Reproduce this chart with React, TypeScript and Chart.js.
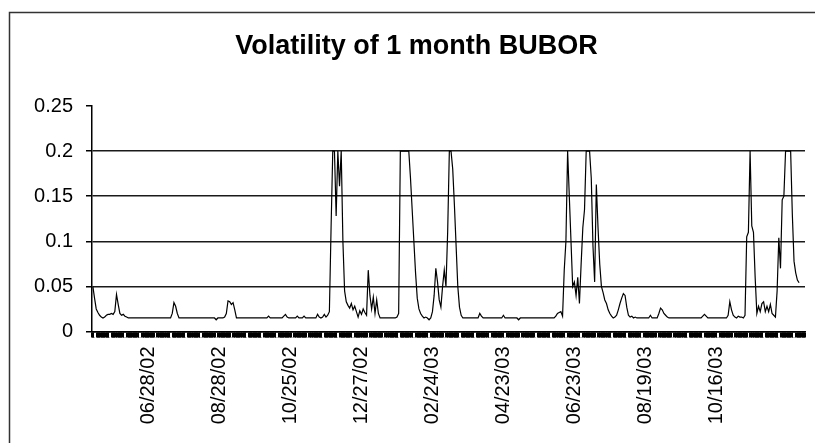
import React, { useEffect, useRef } from "react";
import { Chart, registerables } from "chart.js";

Chart.register(...registerables);

const chartTitle = "Volatility of 1 month BUBOR";
const tickLabels = ["06/28/02", "08/28/02", "10/25/02", "12/27/02", "02/24/03", "04/23/03", "06/23/03", "08/19/03", "10/16/03"];
const firstLabelIndex = 33;
const labelEvery = 42;
const categoryCount = 422;
const yTickValues = [0, 0.05, 0.1, 0.15, 0.2, 0.25];

// one value per business day
const volatility: (number | null)[] = [
  0.05, 0.037, 0.025, 0.021, 0.018, 0.016, 0.015, 0.016, 0.018, 0.019,
  0.019, 0.02, 0.019, 0.022, 0.041, 0.03, 0.02, 0.018, 0.019, 0.017,
  0.016, 0.015, 0.015, 0.015, 0.015, 0.015, 0.015, 0.015, 0.015, 0.015,
  0.015, 0.015, 0.015, 0.015, 0.015, 0.015, 0.015, 0.015, 0.015, 0.015,
  0.015, 0.015, 0.015, 0.015, 0.015, 0.015, 0.015, 0.02, 0.032, 0.028,
  0.02, 0.015, 0.015, 0.015, 0.015, 0.015, 0.015, 0.015, 0.015, 0.015,
  0.015, 0.015, 0.015, 0.015, 0.015, 0.015, 0.015, 0.015, 0.015, 0.015,
  0.015, 0.015, 0.015, 0.013, 0.015, 0.015, 0.015, 0.015, 0.016, 0.02,
  0.034, 0.033, 0.03, 0.032, 0.024, 0.015, 0.015, 0.015, 0.015, 0.015,
  0.015, 0.015, 0.015, 0.015, 0.015, 0.015, 0.015, 0.015, 0.015, 0.015,
  0.015, 0.015, 0.015, 0.015, 0.017, 0.015, 0.015, 0.015, 0.015, 0.015,
  0.015, 0.015, 0.015, 0.017, 0.019, 0.016, 0.015, 0.015, 0.015, 0.015,
  0.015, 0.017, 0.015, 0.015, 0.015, 0.017, 0.015, 0.015, 0.015, 0.015,
  0.015, 0.015, 0.015, 0.019, 0.016, 0.015, 0.016, 0.019, 0.016, 0.018,
  0.022, 0.115, 0.2, 0.2, 0.128, 0.2, 0.161, 0.2, 0.1, 0.045,
  0.033, 0.029, 0.026, 0.031, 0.024, 0.028, 0.022, 0.016, 0.023, 0.019,
  0.025, 0.021, 0.018, 0.068, 0.04, 0.025, 0.038, 0.02, 0.035, 0.02,
  0.015, 0.015, 0.015, 0.015, 0.015, 0.015, 0.015, 0.015, 0.015, 0.015,
  0.016, 0.02, 0.2, 0.2, 0.2, 0.2, 0.2, 0.2, 0.17, 0.135,
  0.1, 0.065, 0.037, 0.025, 0.02, 0.017, 0.015, 0.016, 0.015, 0.013,
  0.015, 0.022, 0.04, 0.07, 0.055, 0.035, 0.027, 0.05, 0.068, 0.05,
  0.11, 0.2, 0.2, 0.18, 0.14, 0.095, 0.05, 0.027, 0.018, 0.015,
  0.015, 0.015, 0.015, 0.015, 0.015, 0.015, 0.015, 0.015, 0.015, 0.02,
  0.017, 0.015, 0.015, 0.015, 0.015, 0.015, 0.015, 0.015, 0.015, 0.015,
  0.015, 0.015, 0.015, 0.018, 0.015, 0.015, 0.015, 0.015, 0.015, 0.015,
  0.015, 0.015, 0.013, 0.015, 0.015, 0.015, 0.015, 0.015, 0.015, 0.015,
  0.015, 0.015, 0.015, 0.015, 0.015, 0.015, 0.015, 0.015, 0.015, 0.015,
  0.015, 0.015, 0.015, 0.015, 0.017, 0.02, 0.021, 0.022, 0.017, 0.068,
  0.1, 0.2, 0.15, 0.1, 0.05, 0.055, 0.04, 0.06, 0.031, 0.075,
  0.115, 0.135, 0.2, 0.2, 0.2, 0.17, 0.095, 0.055, 0.163, 0.115,
  0.075, 0.05, 0.043, 0.035, 0.031, 0.024, 0.02, 0.017, 0.015, 0.016,
  0.018, 0.024, 0.031, 0.037, 0.042, 0.04, 0.027, 0.018, 0.016, 0.017,
  0.015, 0.016, 0.015, 0.015, 0.015, 0.015, 0.015, 0.015, 0.015, 0.015,
  0.018, 0.015, 0.015, 0.015, 0.015, 0.02, 0.026, 0.024, 0.02, 0.018,
  0.016, 0.015, 0.015, 0.015, 0.015, 0.015, 0.015, 0.015, 0.015, 0.015,
  0.015, 0.015, 0.015, 0.015, 0.015, 0.015, 0.015, 0.015, 0.015, 0.015,
  0.015, 0.017, 0.019, 0.017, 0.015, 0.015, 0.015, 0.015, 0.015, 0.015,
  0.015, 0.015, 0.015, 0.015, 0.015, 0.015, 0.018, 0.033, 0.024, 0.018,
  0.016, 0.015, 0.017, 0.016, 0.016, 0.015, 0.018, 0.105, 0.11, 0.2,
  0.117, 0.11, 0.06, 0.02, 0.028, 0.022, 0.031, 0.033, 0.022, 0.028,
  0.022, 0.03, 0.02, 0.018, 0.016, 0.045, 0.104, 0.07, 0.146, 0.15,
  0.2, 0.2, 0.2, 0.2, 0.13, 0.078, 0.065, 0.057, 0.054,
  null, null, null,
];

const categories: string[] = Array.from({ length: categoryCount }, (_, i) => {
  const k = (i - firstLabelIndex) / labelEvery;
  return Number.isInteger(k) && k >= 0 && k < tickLabels.length ? tickLabels[k] : "";
});

const FONT = "'Liberation Sans', Arial, sans-serif";

const framePlugin = {
  id: "frame",
  beforeDraw(chart: any) {
    const ctx = chart.ctx;
    ctx.save();
    ctx.fillStyle = "#ffffff";
    ctx.fillRect(0, 0, chart.width, chart.height);
    ctx.strokeStyle = "#333333";
    ctx.lineWidth = 1.5;
    ctx.strokeRect(9.5, 12.5, 1000, 1000);
    ctx.restore();
  },
};

export default function App() {
  const ref = useRef<HTMLCanvasElement | null>(null);

  useEffect(() => {
    if (!ref.current) return;
    const chart = new Chart(ref.current, {
      type: "line",
      data: {
        labels: categories,
        datasets: [
          {
            label: chartTitle,
            data: volatility,
            borderColor: "#000000",
            borderWidth: 1.2,
            pointRadius: 0,
            tension: 0,
            fill: false,
            spanGaps: false,
          },
        ],
      },
      options: {
        animation: false,
        responsive: false,
        devicePixelRatio: 1,
        layout: { padding: { left: 28, right: 10, top: 0, bottom: 0 } },
        plugins: {
          legend: { display: false },
          tooltip: { enabled: false },
          title: {
            display: true,
            text: chartTitle,
            color: "#000000",
            font: { family: FONT, size: 27, weight: "bold", lineHeight: 1.2 },
            padding: { top: 30, bottom: 43.6 },
          },
        },
        scales: {
          x: {
            type: "category",
            offset: true,
            grid: {
              display: true,
              drawOnChartArea: false,
              drawTicks: true,
              tickLength: 6,
              tickWidth: 3,
              tickColor: (c: any) => (c.index % 9 === 2 ? "#ffffff" : "#000000"),
              offset: true,
            },
            border: { display: true, color: "#000000", width: 1.5 },
            ticks: {
              autoSkip: false,
              minRotation: 90,
              maxRotation: 90,
              padding: 9,
              color: "#000000",
              font: { family: FONT, size: 20 },
            },
            afterFit(scale: any) {
              scale.height = 111.5;
              scale.paddingLeft = 0;
              scale.paddingRight = 0;
            },
          },
          y: {
            type: "linear",
            min: 0,
            max: 0.25,
            afterBuildTicks(scale: any) {
              scale.ticks = yTickValues.map((v) => ({ value: v }));
            },
            grid: {
              color: (c: any) => (c.tick && c.tick.value > 0.24 ? "rgba(0,0,0,0)" : "#1a1a1a"),
              lineWidth: 1.5,
              drawTicks: true,
              tickLength: 6,
              tickColor: "#000000",
              tickWidth: 1.5,
            },
            border: { display: true, color: "#000000", width: 1.5 },
            ticks: {
              padding: 13,
              color: "#000000",
              font: { family: FONT, size: 20 },
              callback: (v: any) => String(Math.round(Number(v) * 100) / 100),
            },
            afterFit(scale: any) {
              scale.width = 64;
              scale.paddingTop = 0;
              scale.paddingBottom = 0;
            },
          },
        },
      },
      plugins: [framePlugin],
    });
    return () => chart.destroy();
  }, []);

  return (
    <div style={{ position: "fixed", left: 0, top: 0, width: 815, height: 443, overflow: "hidden", background: "#fff" }}>
      <canvas ref={ref} width={815} height={443} style={{ display: "block", width: 815, height: 443 }} />
    </div>
  );
}
